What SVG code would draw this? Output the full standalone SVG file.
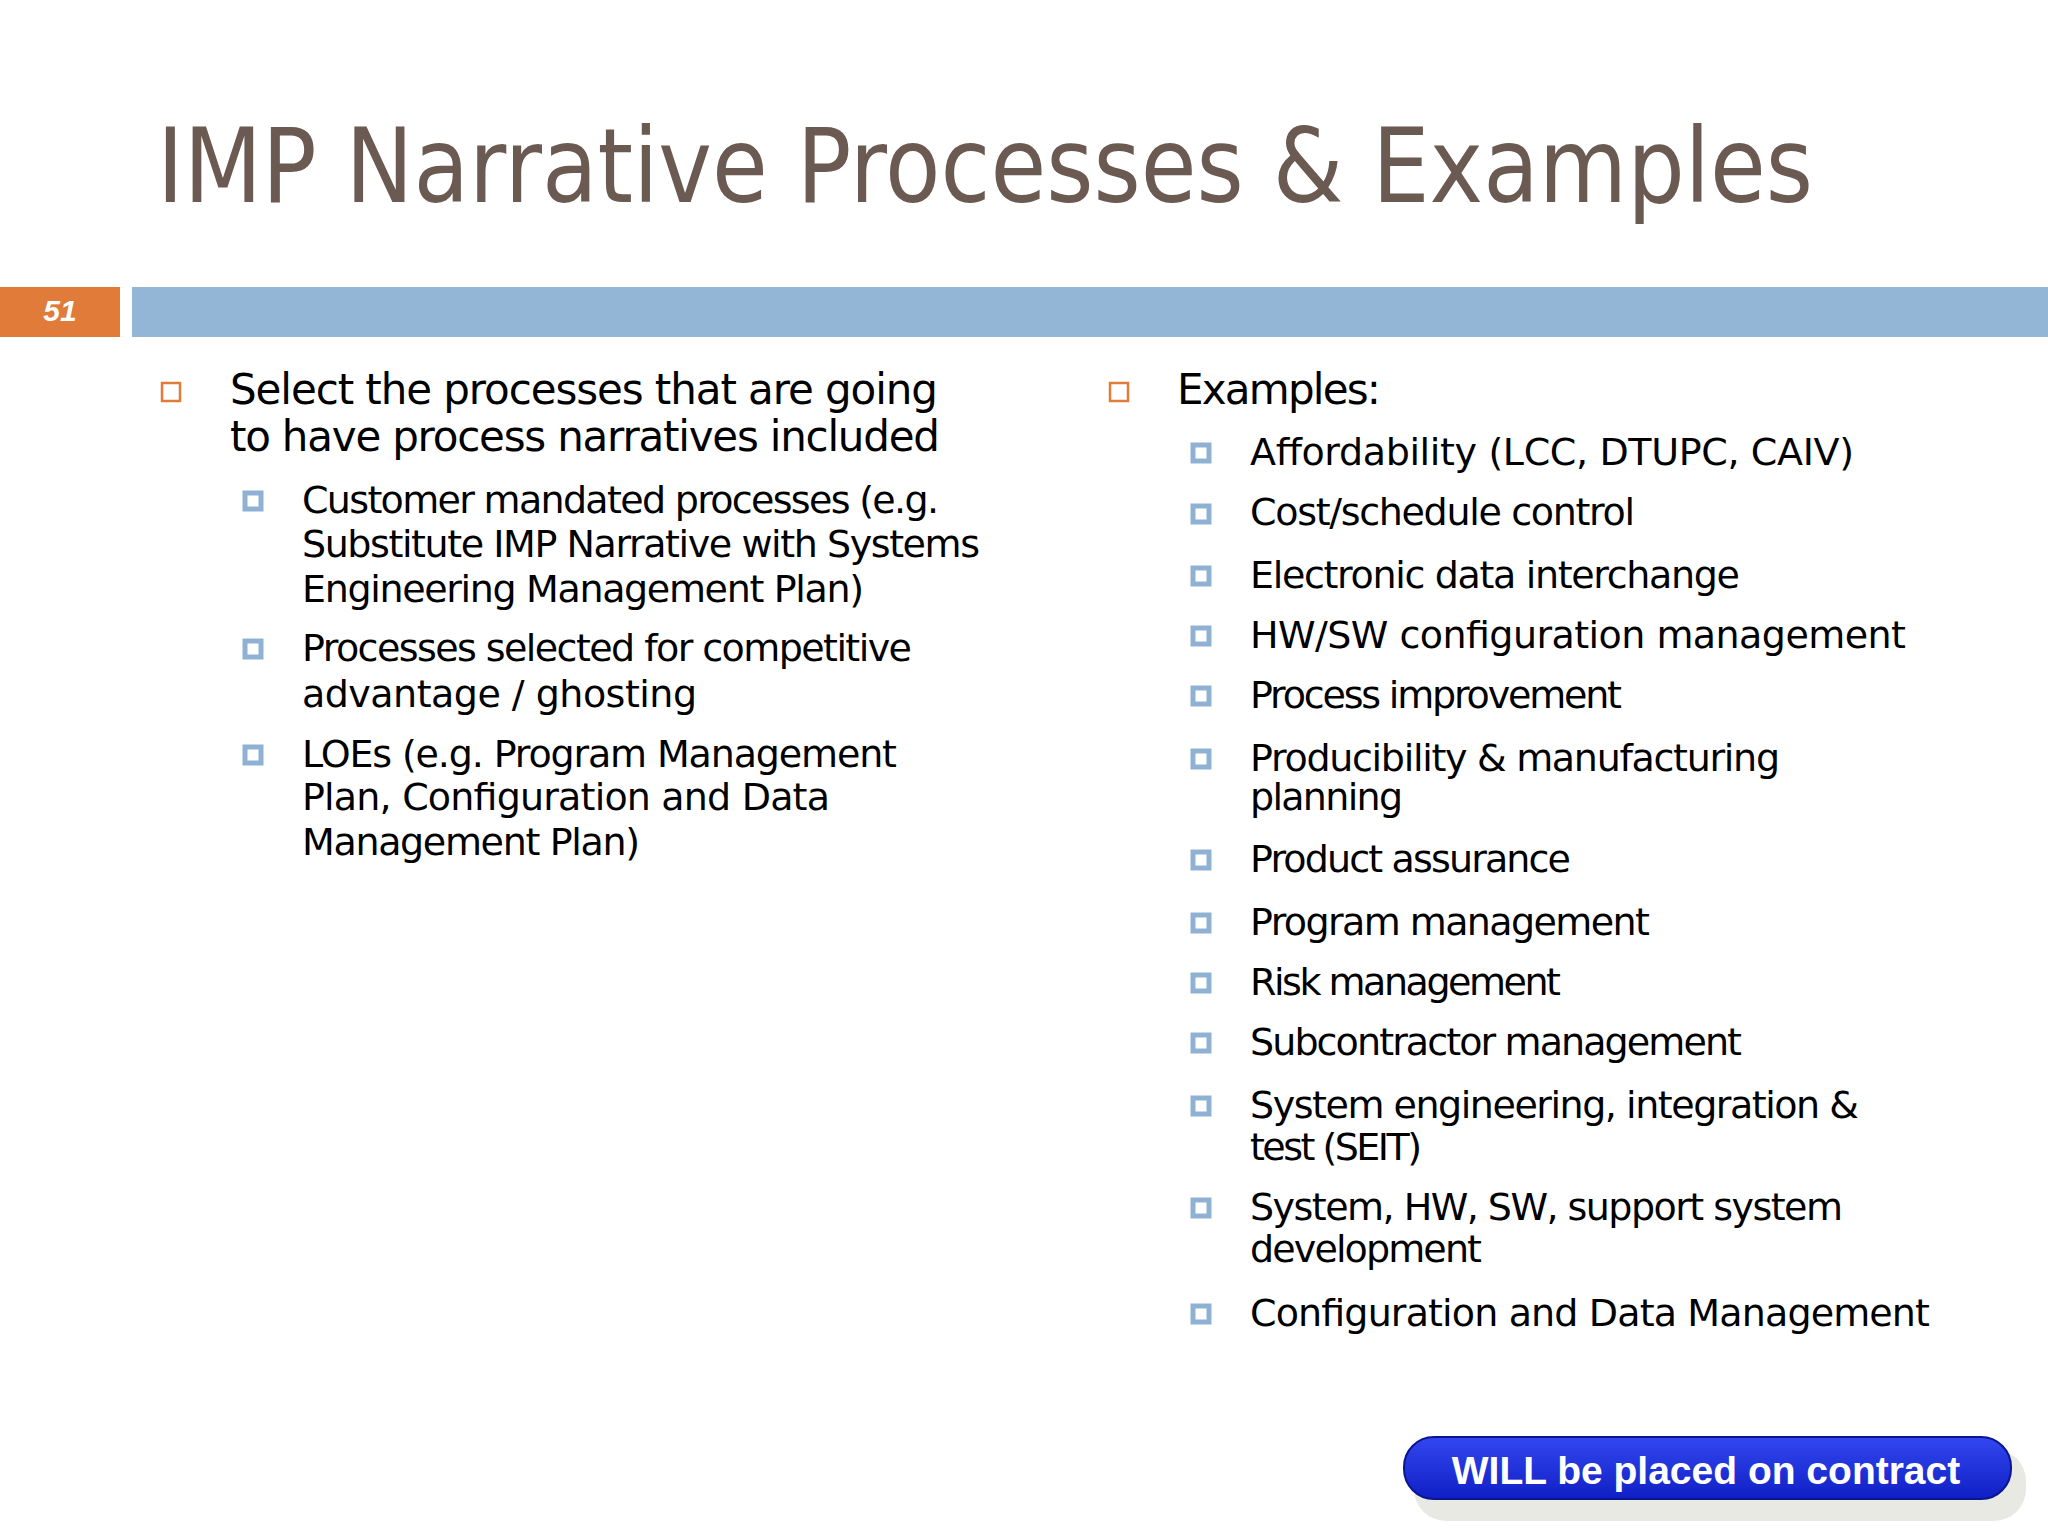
<svg xmlns="http://www.w3.org/2000/svg" width="2048" height="1536" viewBox="0 0 2048 1536">
<defs>
<style>
.t{font-family:"DejaVu Sans","Liberation Sans",sans-serif;fill:#000}
.l1{font-size:42px}
.l2{font-size:38px}
.ob{fill:none;stroke:#e07b39;stroke-width:2.5}
.bb{fill:none;stroke:#8fb1d4;stroke-width:5}
</style>
<linearGradient id="btn" x1="0" y1="0" x2="0" y2="1"><stop offset="0" stop-color="#3347f0"/><stop offset="1" stop-color="#0f1fc4"/></linearGradient>
</defs>
<rect width="2048" height="1536" fill="#fff"/>
<text x="157" y="202" font-family="DejaVu Sans,sans-serif" font-size="104" fill="#6b5a52" textLength="1656" lengthAdjust="spacingAndGlyphs">IMP Narrative Processes &amp; Examples</text>
<rect x="0" y="287" width="120" height="50" fill="#e07b39"/>
<rect x="132" y="287" width="1916" height="50" fill="#93b5d6"/>
<text x="60" y="321" text-anchor="middle" font-family="Liberation Sans,sans-serif" font-weight="bold" font-style="italic" font-size="30" fill="#fff">51</text>
<g id="left">
<rect class="ob" x="162" y="383" width="18" height="18"/>
<text class="t l1" x="230" y="404" textLength="708">Select the processes that are going</text>
<text class="t l1" x="230" y="451" textLength="710">to have process narratives included</text>
<rect class="bb" x="245" y="493" width="16" height="16"/>
<text class="t l2" x="302" y="513" textLength="637">Customer mandated processes (e.g.</text>
<text class="t l2" x="302" y="557" textLength="678">Substitute IMP Narrative with Systems</text>
<text class="t l2" x="302" y="602" textLength="562">Engineering Management Plan)</text>
<rect class="bb" x="245" y="641" width="16" height="16"/>
<text class="t l2" x="302" y="661" textLength="610">Processes selected for competitive</text>
<text class="t l2" x="302" y="707" textLength="395">advantage / ghosting</text>
<rect class="bb" x="245" y="747" width="16" height="16"/>
<text class="t l2" x="302" y="767" textLength="595">LOEs (e.g. Program Management</text>
<text class="t l2" x="302" y="810" textLength="528">Plan, Configuration and Data</text>
<text class="t l2" x="302" y="855" textLength="338">Management Plan)</text>
</g>
<g id="right">
<rect class="ob" x="1110" y="383" width="18" height="18"/>
<text class="t l1" x="1177" y="404" textLength="204">Examples:</text>
<g class="t l2">
<text x="1250" y="465" textLength="604">Affordability (LCC, DTUPC, CAIV)</text>
<text x="1250" y="525" textLength="385">Cost/schedule control</text>
<text x="1250" y="588" textLength="490">Electronic data interchange</text>
<text x="1250" y="648" textLength="656">HW/SW configuration management</text>
<text x="1250" y="708" textLength="372">Process improvement</text>
<text x="1250" y="771" textLength="530">Producibility &amp; manufacturing</text>
<text x="1250" y="810" textLength="153">planning</text>
<text x="1250" y="872" textLength="321">Product assurance</text>
<text x="1250" y="935" textLength="400">Program management</text>
<text x="1250" y="995" textLength="311">Risk management</text>
<text x="1250" y="1055" textLength="492">Subcontractor management</text>
<text x="1250" y="1118" textLength="609">System engineering, integration &amp;</text>
<text x="1250" y="1160" textLength="172">test (SEIT)</text>
<text x="1250" y="1220" textLength="593">System, HW, SW, support system</text>
<text x="1250" y="1262" textLength="232">development</text>
<text x="1250" y="1326" textLength="680">Configuration and Data Management</text>
</g>
<g>
<rect class="bb" x="1193" y="445" width="16" height="16"/>
<rect class="bb" x="1193" y="506" width="16" height="16"/>
<rect class="bb" x="1193" y="568" width="16" height="16"/>
<rect class="bb" x="1193" y="628" width="16" height="16"/>
<rect class="bb" x="1193" y="688" width="16" height="16"/>
<rect class="bb" x="1193" y="751" width="16" height="16"/>
<rect class="bb" x="1193" y="852" width="16" height="16"/>
<rect class="bb" x="1193" y="915" width="16" height="16"/>
<rect class="bb" x="1193" y="975" width="16" height="16"/>
<rect class="bb" x="1193" y="1035" width="16" height="16"/>
<rect class="bb" x="1193" y="1098" width="16" height="16"/>
<rect class="bb" x="1193" y="1200" width="16" height="16"/>
<rect class="bb" x="1193" y="1306" width="16" height="16"/>
</g>
</g>
<g id="button">
<rect x="1414" y="1449" width="612" height="72" rx="32" fill="#e4e4dc" opacity="0.8"/>
<rect x="1404" y="1437" width="607" height="62" rx="30" fill="url(#btn)" stroke="#0a1590" stroke-width="2"/>
<text x="1706" y="1484" text-anchor="middle" font-family="Liberation Sans,sans-serif" font-weight="bold" font-size="39" fill="#fff">WILL be placed on contract</text>
</g>
</svg>
